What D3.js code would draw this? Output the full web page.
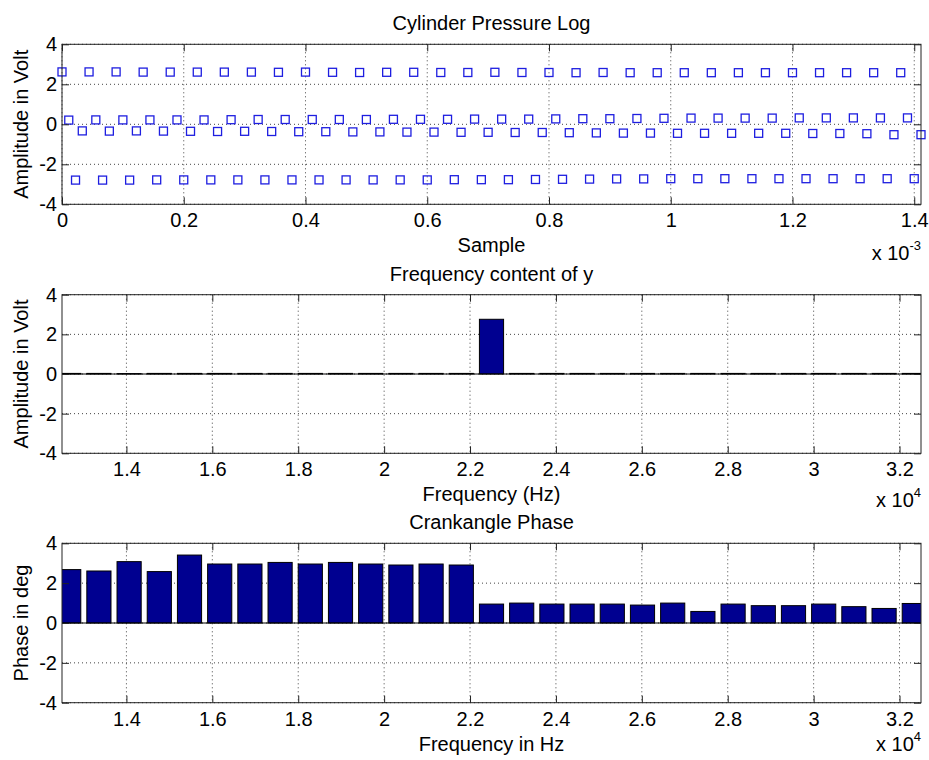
<!DOCTYPE html>
<html>
<head>
<meta charset="utf-8">
<script src="https://cdn.jsdelivr.net/npm/d3@7"></script>
<style>
body { margin: 0; background: #fff; }
svg text { font-family: "Liberation Sans", Arial, sans-serif; fill: #000; }
.grid { stroke: #444; stroke-width: 1; stroke-dasharray: 1,3; }
</style>
</head>
<body>
<svg id="chart" width="929" height="760"></svg>
<script>
// sampled pressure signal, one value per sample (fs = 90 kHz)
var sampleRate = 90000;
var pressureSamples = [
    2.62, 0.21, -2.79, -0.33,  2.62, 0.22, -2.79, -0.34,  2.62, 0.22, -2.79, -0.33,  2.61, 0.22, -2.78, -0.34,
    2.61, 0.22, -2.78, -0.35,  2.61, 0.22, -2.78, -0.36,  2.61, 0.23, -2.78, -0.35,  2.61, 0.24, -2.78, -0.36,
    2.60, 0.24, -2.78, -0.37,  2.61, 0.24, -2.78, -0.37,  2.60, 0.24, -2.78, -0.38,  2.59, 0.24, -2.78, -0.38,
    2.60, 0.25, -2.78, -0.39,  2.60, 0.25, -2.78, -0.39,  2.59, 0.25, -2.77, -0.40,  2.59, 0.26, -2.77, -0.40,
    2.60, 0.26, -2.77, -0.41,  2.59, 0.26, -2.76, -0.41,  2.59, 0.27, -2.75, -0.42,  2.58, 0.28, -2.74, -0.43,
    2.59, 0.28, -2.73, -0.44,  2.58, 0.29, -2.73, -0.44,  2.58, 0.30, -2.72, -0.45,  2.58, 0.31, -2.72, -0.45,
    2.58, 0.31, -2.72, -0.45,  2.58, 0.31, -2.72, -0.45,  2.58, 0.31, -2.72, -0.45,  2.58, 0.32, -2.72, -0.46,
    2.58, 0.32, -2.72, -0.46,  2.58, 0.32, -2.72, -0.47,  2.58, 0.32, -2.72, -0.52,  2.58, 0.32, -2.72, -0.52
];

// FFT bins shown (Hz)
var binFreqs = [
    12656.25, 13359.375, 14062.5, 14765.625, 15468.75, 16171.875, 16875, 17578.125,
    18281.25, 18984.375, 19687.5, 20390.625, 21093.75, 21796.875, 22500, 23203.125,
    23906.25, 24609.375, 25312.5, 26015.625, 26718.75, 27421.875, 28125, 28828.125,
    29531.25, 30234.375, 30937.5, 31640.625, 32343.75
];
var amplitudes = [
    0.03, 0.03, 0.02, 0.03, 0.03, 0.03, 0.03, 0.03, 0.03, 0.03, 0.03, 0.03, 0.03, 0.03,
    2.76, 0.03, 0.03, 0.03, 0.03, 0.03, 0.03, 0.03, 0.03, 0.03, 0.03, 0.03, 0.03, 0.03, 0.03
];
var phases = [
    2.68, 2.61, 3.08, 2.58, 3.41, 2.96, 2.96, 3.04, 2.96, 3.04, 2.96, 2.91, 2.96, 2.91,
    0.95, 1.00, 0.95, 0.95, 0.95, 0.90, 1.00, 0.58, 0.95, 0.87, 0.87, 0.95, 0.82, 0.73, 0.98
];

var yTicks = [-4, -2, 0, 2, 4];
var timeTicks = [0, 0.0002, 0.0004, 0.0006, 0.0008, 0.001, 0.0012, 0.0014];
var freqTicks = [14000, 16000, 18000, 20000, 22000, 24000, 26000, 28000, 30000, 32000];

var svg = d3.select('#chart'),
    left = 62,
    right = 921,
    fontSize = 20,
    barColor = '#000090';

svg.append('rect').attr('width', 929).attr('height', 760).attr('fill', '#fff');

function drawPanel(p) {
    var x = d3.scaleLinear().domain(p.xDomain).range([left, right]);
    var y = d3.scaleLinear().domain([-4, 4]).range([p.bottom, p.top]);
    var g = svg.append('g');

    // dotted grid
    g.append('g').selectAll('line')
        .data(p.xTicks)
      .enter().append('line')
        .attr('class', 'grid')
        .attr('x1', function(d) { return x(d); })
        .attr('x2', function(d) { return x(d); })
        .attr('y1', p.top)
        .attr('y2', p.bottom);
    g.append('g').selectAll('line')
        .data(yTicks)
      .enter().append('line')
        .attr('class', 'grid')
        .attr('x1', left)
        .attr('x2', right)
        .attr('y1', function(d) { return y(d); })
        .attr('y2', function(d) { return y(d); });

    p.drawMarks(g, x, y);

    var fmt = function(d) { return d3.format('.1~f')(d / p.scale); };
    var blank = function() { return ''; };

    g.append('g').attr('transform', 'translate(0,' + p.bottom + ')')
        .call(d3.axisBottom(x).tickValues(p.xTicks).tickSize(-7).tickPadding(9).tickFormat(fmt));
    g.append('g').attr('transform', 'translate(0,' + p.top + ')')
        .call(d3.axisTop(x).tickValues(p.xTicks).tickSize(-7).tickFormat(blank));
    g.append('g').attr('transform', 'translate(' + left + ',0)')
        .call(d3.axisLeft(y).tickValues(yTicks).tickSize(-7).tickPadding(5).tickFormat(function(d) { return String(d); }));
    g.append('g').attr('transform', 'translate(' + right + ',0)')
        .call(d3.axisRight(y).tickValues(yTicks).tickSize(-7).tickFormat(blank));

    g.selectAll('.domain').remove();
    g.selectAll('.tick line').attr('stroke', '#222');
    g.selectAll('.tick text')
        .attr('font-family', null)
        .style('font-size', fontSize + 'px');

    g.append('rect')
        .attr('x', left).attr('y', p.top)
        .attr('width', right - left).attr('height', p.bottom - p.top)
        .attr('fill', 'none').attr('stroke', '#222');

    g.append('text')
        .attr('x', (left + right) / 2).attr('y', p.top - 14)
        .attr('text-anchor', 'middle')
        .style('font-size', fontSize + 'px')
        .text(p.title);
    g.append('text')
        .attr('x', (left + right) / 2).attr('y', p.bottom + 48)
        .attr('text-anchor', 'middle')
        .style('font-size', fontSize + 'px')
        .text(p.xLabel);
    g.append('text')
        .attr('transform', 'translate(28,' + (p.top + p.bottom) / 2 + ') rotate(-90)')
        .attr('text-anchor', 'middle')
        .style('font-size', fontSize + 'px')
        .text(p.yLabel);

    var expo = g.append('text')
        .attr('x', right).attr('y', p.bottom + p.expoOffset)
        .attr('text-anchor', 'end')
        .style('font-size', fontSize + 'px');
    expo.append('tspan').text('x 10');
    expo.append('tspan').attr('dy', -10).style('font-size', '13px').text(p.exponent);
}

function drawBars(values) {
    return function(g, x, y) {
        var half = (binFreqs[1] - binFreqs[0]) * 0.4,
            clipId = 'clip' + Math.round(y.range()[1]);

        g.append('clipPath').attr('id', clipId)
          .append('rect')
            .attr('x', left).attr('y', y.range()[1])
            .attr('width', right - left).attr('height', y.range()[0] - y.range()[1]);

        var bars = g.append('g').attr('clip-path', 'url(#' + clipId + ')');
        bars.selectAll('rect')
            .data(values)
          .enter().append('rect')
            .attr('x', function(d, i) { return x(binFreqs[i] - half); })
            .attr('width', function(d, i) { return x(binFreqs[i] + half) - x(binFreqs[i] - half); })
            .attr('y', function(d) { return y(Math.max(d, 0)); })
            .attr('height', function(d) { return Math.abs(y(d) - y(0)); })
            .attr('fill', barColor)
            .attr('stroke', '#000')
            .attr('stroke-width', 1);

        g.append('line')
            .attr('x1', left).attr('x2', right)
            .attr('y1', y(0)).attr('y2', y(0))
            .attr('stroke', '#000');
    };
}

drawPanel({
    top: 44.3, bottom: 204.3,
    xDomain: [0, (pressureSamples.length - 1) / sampleRate],
    xTicks: timeTicks, scale: 1e-3, exponent: '-3', expoOffset: 56,
    title: 'Cylinder Pressure Log', xLabel: 'Sample', yLabel: 'Amplitude in Volt',
    drawMarks: function(g, x, y) {
        g.append('g').selectAll('rect')
            .data(pressureSamples)
          .enter().append('rect')
            .attr('x', function(d, i) { return x(i / sampleRate) - 4; })
            .attr('y', function(d) { return y(d) - 4; })
            .attr('width', 8).attr('height', 8)
            .attr('fill', 'none')
            .attr('stroke', '#1e1ee0')
            .attr('stroke-width', 1.3);
    }
});

drawPanel({
    top: 294.7, bottom: 453.3,
    xDomain: [12500, 32500],
    xTicks: freqTicks, scale: 1e4, exponent: '4', expoOffset: 54,
    title: 'Frequency content of y', xLabel: 'Frequency (Hz)', yLabel: 'Amplitude in Volt',
    drawMarks: drawBars(amplitudes)
});

drawPanel({
    top: 543.3, bottom: 702.7,
    xDomain: [12500, 32500],
    xTicks: freqTicks, scale: 1e4, exponent: '4', expoOffset: 48,
    title: 'Crankangle Phase', xLabel: 'Frequency in Hz', yLabel: 'Phase in deg',
    drawMarks: drawBars(phases)
});
</script>
</body>
</html>
